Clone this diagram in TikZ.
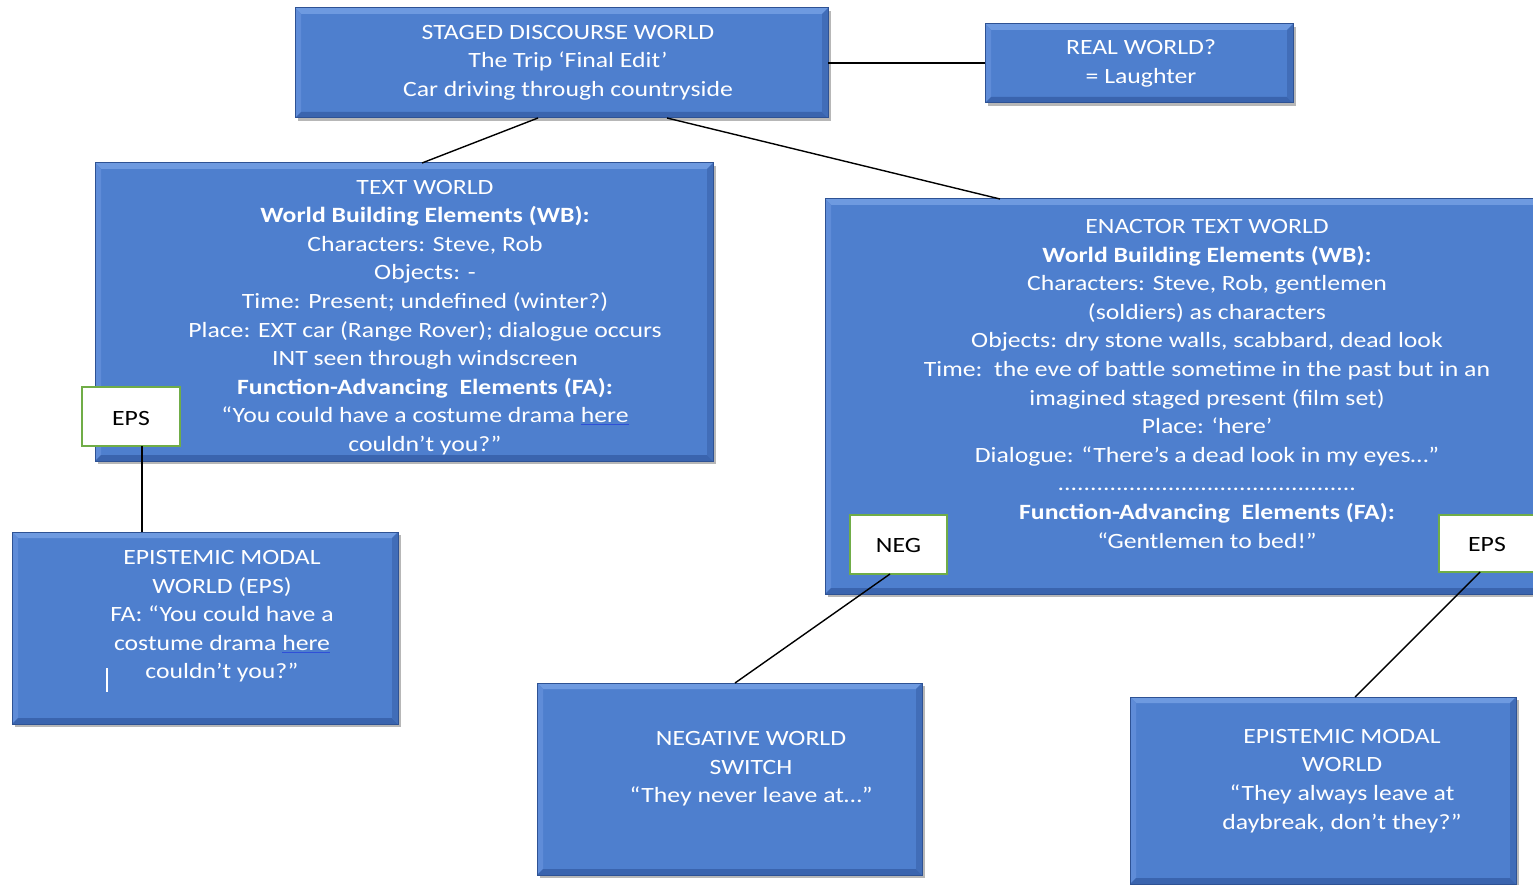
\documentclass[tikz,border=0pt]{standalone}
\usepackage{fontspec}
\setmainfont{Carlito}
\usepackage{graphicx}
\usetikzlibrary{shadows,calc}
\definecolor{boxblue}{HTML}{4E7FCE}
\definecolor{bevlight}{HTML}{6E9AE0}
\definecolor{bevlight2}{HTML}{5F8CD8}
\definecolor{bevdark}{HTML}{3A64AE}
\definecolor{bevdark2}{HTML}{416DB8}
\definecolor{edgeblue}{HTML}{2E5294}
\definecolor{labgreen}{HTML}{70AD47}
\definecolor{ulblue}{HTML}{2F4FD8}
\newcommand{\wtext}[1]{\scalebox{1.18}[1]{\fontsize{21.8}{28.6}\selectfont\begin{tabular}{@{}c@{}}#1\end{tabular}}}
\newcommand{\ulh}[1]{{\color{ulblue}\underline{\color{white}#1}}}
\newcommand{\labtext}[2]{\raisebox{-#1}[\height][\depth]{\wtext{#2}}}
\tikzset{
  worldbox/.style={rectangle, inner sep=0pt, outer sep=0pt, fill=boxblue,
    draw=edgeblue, line width=1pt,
    drop shadow={shadow xshift=3pt, shadow yshift=-3pt, opacity=0.4, fill=black!70},
    path picture={
      \fill[bevlight] (path picture bounding box.north west) -- (path picture bounding box.north east)
        -- ([xshift=-6pt,yshift=-6pt]path picture bounding box.north east) -- ([xshift=6pt,yshift=-6pt]path picture bounding box.north west) -- cycle;
      \fill[bevlight2] (path picture bounding box.north west) -- ([xshift=6pt,yshift=-6pt]path picture bounding box.north west)
        -- ([xshift=6pt,yshift=6pt]path picture bounding box.south west) -- (path picture bounding box.south west) -- cycle;
      \fill[bevdark] (path picture bounding box.south west) -- (path picture bounding box.south east)
        -- ([xshift=-6pt,yshift=6pt]path picture bounding box.south east) -- ([xshift=6pt,yshift=6pt]path picture bounding box.south west) -- cycle;
      \fill[bevdark2] (path picture bounding box.north east) -- ([xshift=-6pt,yshift=-6pt]path picture bounding box.north east)
        -- ([xshift=-6pt,yshift=6pt]path picture bounding box.south east) -- (path picture bounding box.south east) -- cycle;
    }},
  wtxt/.style={inner sep=0pt, outer sep=0pt, text=white},
  labbox/.style={rectangle, inner sep=0pt, outer sep=0pt, fill=white, draw=labgreen, line width=1.8pt, text=black},
  conn/.style={draw=black, line width=1.4pt}
}
\begin{document}
\begin{tikzpicture}[x=1pt,y=-1pt]
\useasboundingbox (0,0) rectangle (1533,885);
\clip (0,0) rectangle (1533,885);
% world boxes
\node[worldbox, minimum width=533, minimum height=110] (sdw) at (561.5,63) {};
\node[worldbox, minimum width=308, minimum height=79] (real) at (1139,63.5) {};
\node[worldbox, minimum width=618, minimum height=298] (tw) at (404,312) {};
\node[worldbox, minimum width=720, minimum height=395] (etw) at (1185,396.5) {};
\node[worldbox, minimum width=386, minimum height=192] (epiL) at (205,628) {};
\node[worldbox, minimum width=385, minimum height=192] (negW) at (729.5,779) {};
\node[worldbox, minimum width=386, minimum height=187] (epiR) at (1323,790.5) {};
% texts
\node[wtxt] (sdw-t) at (568,62) {\wtext{STAGED DISCOURSE WORLD\\The Trip ‘Final Edit’\\Car driving through countryside}};
\node[wtxt] (real-t) at (1141,63.5) {\wtext{REAL WORLD?\\= Laughter}};
\node[wtxt] (tw-t) at (425,317) {\wtext{TEXT WORLD\\\textbf{World Building Elements (WB):}\\Characters: Steve, Rob\\Objects: -\\Time: Present; undefined (winter?)\\Place: EXT car (Range Rover); dialogue occurs\\INT seen through windscreen\\\textbf{Function-Advancing\ \ Elements (FA):}\\“You could have a costume drama \ulh{here}\\couldn’t you?”}};
\node[wtxt] (etw-t) at (1207,385) {\wtext{ENACTOR TEXT WORLD\\\textbf{World Building Elements (WB):}\\Characters: Steve, Rob, gentlemen\\(soldiers) as characters\\Objects: dry stone walls, scabbard, dead look\\Time:\ \ the eve of battle sometime in the past but in an\\imagined staged present (film set)\\Place: ‘here’\\Dialogue: “There’s a dead look in my eyes…”\\..............................................\\\textbf{Function-Advancing\ \ Elements (FA):}\\“Gentlemen to bed!”}};
\node[wtxt] (epiL-t) at (222,616) {\wtext{EPISTEMIC MODAL\\WORLD (EPS)\\FA: “You could have a\\costume drama \ulh{here}\\couldn’t you?”}};
\node[wtxt] (negW-t) at (751,768.5) {\wtext{NEGATIVE WORLD\\SWITCH\\“They never leave at…”}};
\node[wtxt] (epiR-t) at (1342,780.5) {\wtext{EPISTEMIC MODAL\\WORLD\\“They always leave at\\daybreak, don’t they?”}};
\draw[white, line width=1.2pt] (107,668) -- (107,692);
% labels
\node[labbox, minimum width=98, minimum height=59] (epsL) at (131,416.5) {\labtext{3pt}{EPS}};
\node[labbox, minimum width=97, minimum height=59] (neg) at (898.5,544.5) {\labtext{2.5pt}{NEG}};
\node[labbox, minimum width=96, minimum height=57] (epsR) at (1487,543.5) {\labtext{2pt}{EPS}};
% connectors
\draw[conn] ([xshift=243pt]sdw.south west) -- ([xshift=327pt]tw.north west);
\draw[conn] ([xshift=372pt]sdw.south west) -- ([xshift=175pt]etw.north west);
\draw[conn] (sdw.east) -- (sdw.east -| real.west);
\draw[conn] ([xshift=11pt]epsL.south) -- ([xshift=11pt]epsL.south |- epiL.north);
\draw[conn] ([xshift=-8.5pt]neg.south) -- ([xshift=5.5pt]negW.north);
\draw[conn] ([xshift=-7pt]epsR.south) -- ([xshift=32pt]epiR.north);
\end{tikzpicture}
\end{document}
